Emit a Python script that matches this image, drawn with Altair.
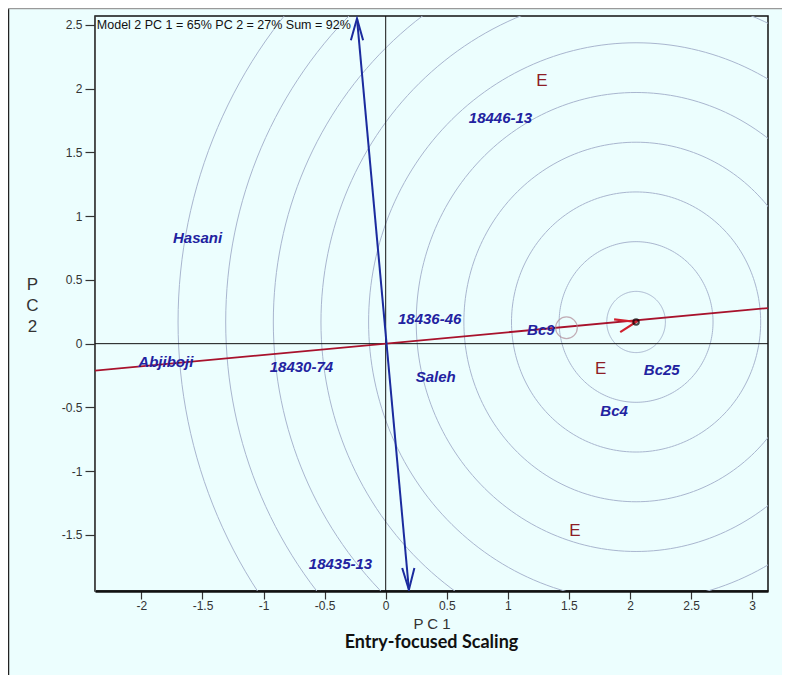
import numpy as np
import pandas as pd
import altair as alt

# ---------------- data ----------------
entry_names = ["18446-13", "Hasani", "18436-46", "Bc9", "Abjiboji", "18430-74",
               "Saleh", "Bc25", "Bc4", "18435-13"]
entry_x = [0.94, -1.54, 0.36, 1.27, -1.80, -0.69, 0.41, 2.26, 1.87, -0.37]
entry_y = [1.77, 0.83, 0.19, 0.11, -0.14, -0.18, -0.26, -0.21, -0.53, -1.73]

env_labels = ["E", "E", "E"]
env_x = [1.28, 1.76, 1.55]
env_y = [2.06, -0.20, -1.47]

# average-environment abscissa (red) and ordinate (blue)
red_x = [-2.38, 3.13]
red_y = [-0.212, 0.279]
blue_x = [-0.235, 0.19]
blue_y = [2.55, -1.93]

# arrow heads
blue_head_top_x = [-0.285, -0.235, -0.185]
blue_head_top_y = [2.38, 2.55, 2.38]
blue_head_bot_x = [0.135, 0.19, 0.235]
blue_head_bot_y = [-1.76, -1.93, -1.76]
red_head_x = [1.87, 2.05, 1.92]
red_head_y = [0.19, 0.17, 0.09]

# ideal entry and concentric rings
ideal_x = [2.05]
ideal_y = [0.17]
ring_radii = [0.24, 0.63, 1.02, 1.41, 1.80, 2.19, 2.58, 2.97, 3.36, 3.75]

avg_env_x = [1.48]
avg_env_y = [0.125]

x_ticks = [-2, -1.5, -1, -0.5, 0, 0.5, 1, 1.5, 2, 2.5, 3]
y_ticks = [-1.5, -1, -0.5, 0, 0.5, 1, 1.5, 2, 2.5]

info_text = ["Model 2 PC 1 = 65% PC 2 = 27% Sum = 92%"]
info_x = [-2.365]
info_y = [2.50]

subtitle = ["Entry-focused Scaling"]

# ---------------- build tables ----------------
theta = np.linspace(0, 2 * np.pi, 241)
rings = []
for i, r in enumerate(ring_radii):
    for k, t in enumerate(theta):
        rings.append({"ring": i, "k": k,
                      "x": ideal_x[0] + r * np.cos(t),
                      "y": ideal_y[0] + r * np.sin(t)})
rings = pd.DataFrame(rings)

X_DOM = [-2.38, 3.13]
Y_DOM = [-1.94, 2.57]
W, H = 673, 575

xs = alt.Scale(domain=X_DOM, nice=False, zero=False)
ys = alt.Scale(domain=Y_DOM, nice=False, zero=False)

x_axis = alt.Axis(values=x_ticks, labelExpr="'' + datum.value", grid=False,
                  tickSize=8, tickColor="#333", tickWidth=1.2, labelPadding=1,
                  labelFont="Liberation Sans", labelFontSize=12, labelColor="#333",
                  domainColor="#111", domainWidth=2.5,
                  title="P C 1", titleFont="Liberation Sans", titleFontSize=15,
                  titleFontWeight="normal", titleColor="#333", titleY=32,
                  titleBaseline="middle")
y_axis = alt.Axis(values=y_ticks, labelExpr="'' + datum.value", grid=False,
                  tickSize=10, tickColor="#333", tickWidth=1.2, labelPadding=3,
                  labelFont="Liberation Sans", labelFontSize=12, labelColor="#333",
                  domainColor="#555", domainWidth=1,
                  title=["P", "C", "2"], titleAngle=0, titleFont="Liberation Sans",
                  titleFontSize=17, titleFontWeight="normal", titleColor="#333",
                  titleX=-63, titleY=260, titleAlign="center", titleBaseline="top",
                  titleLineHeight=21)

ring_layer = alt.Chart(rings).mark_line(color="#A9B6CF", strokeWidth=1, clip=True).encode(
    x=alt.X("x:Q", scale=xs, axis=x_axis),
    y=alt.Y("y:Q", scale=ys, axis=y_axis),
    detail="ring:N",
    order="k:Q",
)

zero_v = alt.Chart(pd.DataFrame({"x": [0]})).mark_rule(color="#111", strokeWidth=1).encode(
    x=alt.X("x:Q", scale=xs))
zero_h = alt.Chart(pd.DataFrame({"y": [0]})).mark_rule(color="#111", strokeWidth=1).encode(
    y=alt.Y("y:Q", scale=ys))

def seg(xv, yv, color, width):
    df = pd.DataFrame({"x": xv, "y": yv, "o": list(range(len(xv)))})
    return alt.Chart(df).mark_line(color=color, strokeWidth=width, clip=True).encode(
        x=alt.X("x:Q", scale=xs), y=alt.Y("y:Q", scale=ys), order="o:Q")

red_line = seg(red_x, red_y, "#A8122C", 1.8)
blue_line = seg(blue_x, blue_y, "#1B2B9E", 2)
bh_top = seg(blue_head_top_x, blue_head_top_y, "#1B2B9E", 2)
bh_bot = seg(blue_head_bot_x, blue_head_bot_y, "#1B2B9E", 2)
rh = seg(red_head_x, red_head_y, "#D0202E", 2.2)

avg_circle = alt.Chart(pd.DataFrame({"x": avg_env_x, "y": avg_env_y})).mark_point(
    shape="circle", size=470, color="#B08C98", strokeWidth=1.2, filled=False).encode(
    x=alt.X("x:Q", scale=xs), y=alt.Y("y:Q", scale=ys))

ideal_pt = alt.Chart(pd.DataFrame({"x": ideal_x, "y": ideal_y})).mark_point(
    shape="circle", size=30, color="#000", strokeWidth=2, filled=False).encode(
    x=alt.X("x:Q", scale=xs), y=alt.Y("y:Q", scale=ys))

entries = alt.Chart(pd.DataFrame({"x": entry_x, "y": entry_y, "t": entry_names})).mark_text(
    font="Liberation Sans", fontSize=15, fontStyle="italic", fontWeight="bold",
    color="#2222A0", align="center", baseline="middle").encode(
    x=alt.X("x:Q", scale=xs), y=alt.Y("y:Q", scale=ys), text="t:N")

envs = alt.Chart(pd.DataFrame({"x": env_x, "y": env_y, "t": env_labels})).mark_text(
    font="Liberation Sans", fontSize=17, color="#8E1E26", align="center",
    baseline="middle").encode(
    x=alt.X("x:Q", scale=xs), y=alt.Y("y:Q", scale=ys), text="t:N")

info = alt.Chart(pd.DataFrame({"x": info_x, "y": info_y, "t": info_text})).mark_text(
    font="Liberation Sans", fontSize=12.5, color="#111", align="left",
    baseline="middle").encode(
    x=alt.X("x:Q", scale=xs), y=alt.Y("y:Q", scale=ys), text="t:N")

sub = alt.Chart(pd.DataFrame({"t": subtitle})).mark_text(
    font="Lato", fontSize=18, fontWeight="bold", color="#111", align="center",
    baseline="middle").encode(
    x=alt.value(W / 2), y=alt.value(H + 52), text="t:N")

# outer page frame lines
frame_left = alt.Chart(pd.DataFrame({"a": [0]})).mark_rule(color="#222", strokeWidth=1.5).encode(
    x=alt.value(-86.5), y=alt.value(-8), y2=alt.value(H + 84))
frame_top = alt.Chart(pd.DataFrame({"a": [0]})).mark_rule(color="#999", strokeWidth=1.5).encode(
    y=alt.value(-7.5), x=alt.value(-87), x2=alt.value(W + 14))

chart = alt.layer(
    ring_layer, zero_v, zero_h, red_line, rh, blue_line, bh_top, bh_bot,
    avg_circle, ideal_pt, entries, envs, info, sub, frame_left, frame_top,
).properties(
    width=W, height=H,
    autosize=alt.AutoSizeParams(type="none"),
    padding={"left": 87, "top": 8, "right": 14, "bottom": 84},
    background="#ECFEFE",
).configure_view(stroke="#111", strokeWidth=1.5)

chart.save("out.html", embed_options={"renderer": "svg", "actions": False})
